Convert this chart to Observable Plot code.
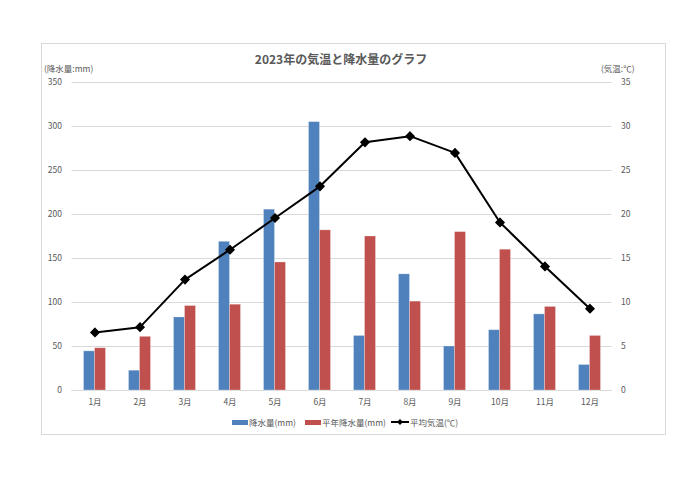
<!DOCTYPE html>
<html>
<head>
<meta charset="utf-8">
<script src="https://cdn.jsdelivr.net/npm/d3@7"></script>
<script src="https://cdn.jsdelivr.net/npm/@observablehq/plot@0.6"></script>
<style>
  body { margin: 0; background: #fff; font-family: "Noto Sans CJK JP", "Noto Sans", sans-serif; }
  #wrap { position: relative; width: 690px; height: 488px; overflow: hidden; }
  #box { position: absolute; left: 41px; top: 43px; width: 625px; height: 392px; border: 1px solid #d9d9d9; box-sizing: border-box; }
  #title { position: absolute; left: 0; width: 682px; top: 51px; text-align: center; font-size: 12px; font-weight: bold; color: #595959; line-height: 16px; }
  .alab { position: absolute; top: 63px; font-size: 8.5px; color: #595959; line-height: 11px; }
  #chart { position: absolute; left: 0; top: 0; }
  #legend { position: absolute; top: 414px; left: 0; width: 690px; font-size: 8.5px; color: #595959; }
  .li { position: absolute; top: 0; display: flex; align-items: center; height: 16px; }
  .sw { display: inline-block; width: 16px; height: 5px; margin-right: 1px; }
</style>
</head>
<body>
<div id="wrap">
  <div id="box"></div>
  <div id="chart"></div>
  <div id="title">2023年の気温と降水量のグラフ</div>
  <div class="alab" style="left:44px">(降水量:mm)</div>
  <div class="alab" style="left:601px">(気温:℃)</div>
  <div id="legend"></div>
</div>
<script>
const months = ["1月","2月","3月","4月","5月","6月","7月","8月","9月","10月","11月","12月"];
const precip = [44.5, 22.5, 83, 169, 205.5, 305, 62, 132, 50, 68.5, 86.5, 29];
const normalPrecip = [48, 61, 96, 97.5, 145.5, 182, 175, 101, 180, 160, 95, 62];
const avgTemp = [6.6, 7.2, 12.6, 16.0, 19.6, 23.2, 28.2, 28.9, 27.0, 19.1, 14.1, 9.3];
const precipTicks = [0, 50, 100, 150, 200, 250, 300, 350];
const tempTicks = [0, 5, 10, 15, 20, 25, 30, 35];
const seriesNames = ["降水量(mm)", "平年降水量(mm)", "平均気温(℃)"];
const colors = ["#4f81bd", "#c0504d", "#000000"];

const tempFactor = 350 / 35;
const data = months.map((m, i) => ({month: m, precip: precip[i], normal: normalPrecip[i], temp: avgTemp[i] * tempFactor}));

const chart = Plot.plot({
  width: 690,
  height: 488,
  marginLeft: 71.5,
  marginRight: 78.5,
  marginTop: 82,
  marginBottom: 98,
  style: {fontFamily: '"Noto Sans CJK JP", "Noto Sans", sans-serif', fontSize: "8.5px", color: "#595959", background: "transparent"},
  x: {type: "band", domain: months, padding: 0},
  y: {domain: [0, 350]},
  marks: [
    Plot.gridY(precipTicks, {stroke: "#d9d9d9", strokeOpacity: 1}),
    Plot.ruleY([0], {stroke: "#d9d9d9"}),
    Plot.barY(data, {x: "month", y: "precip", fill: colors[0], insetLeft: 11.5, insetRight: 22.5, stroke: "#fff", strokeOpacity: 0.35, strokeWidth: 0.8}),
    Plot.barY(data, {x: "month", y: "normal", fill: colors[1], insetLeft: 22.5, insetRight: 11.5, stroke: "#fff", strokeOpacity: 0.35, strokeWidth: 0.8}),
    Plot.line(data, {x: "month", y: "temp", stroke: colors[2], strokeWidth: 2}),
    Plot.dot(data, {x: "month", y: "temp", symbol: "diamond2", r: 3.6, fill: colors[2], stroke: colors[2]}),
    Plot.axisY(precipTicks, {anchor: "left", tickSize: 0, tickPadding: 10, label: null, fontSize: 8.5}),
    Plot.axisY(tempTicks.map(t => t * tempFactor), {anchor: "right", tickSize: 0, tickPadding: 9, label: null, tickFormat: d => d / tempFactor, fontSize: 8.5}),
    Plot.axisX({tickSize: 0, tickPadding: 8, label: null, fontSize: 8.5})
  ]
});
document.getElementById("chart").appendChild(chart);

const legend = document.getElementById("legend");
const pos = [232, 305, 391];
seriesNames.forEach((name, i) => {
  const item = document.createElement("div");
  item.className = "li";
  item.style.left = pos[i] + "px";
  if (i < 2) {
    item.innerHTML = `<span class="sw" style="background:${colors[i]}"></span><span>${name}</span>`;
  } else {
    item.innerHTML = `<svg width="18" height="10" style="margin-right:1px"><line x1="0" y1="5" x2="18" y2="5" stroke="#000" stroke-width="2"/><path d="M9,2 L12,5 L9,8 L6,5 Z" fill="#000"/></svg><span>${name}</span>`;
  }
  legend.appendChild(item);
});
</script>
</body>
</html>
